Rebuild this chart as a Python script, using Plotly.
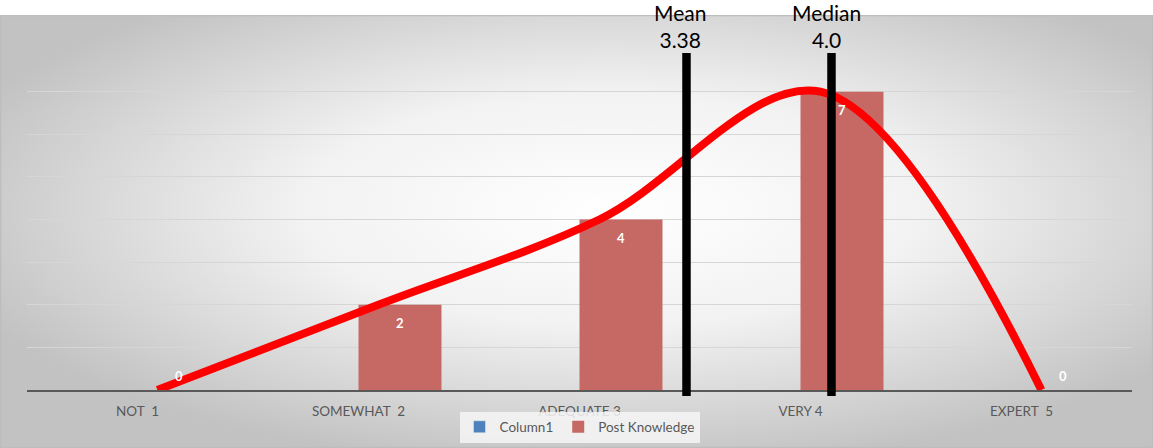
import base64
import plotly.graph_objects as go

# Survey response categories and counts
categories = ["NOT\u00a0\u00a01", "SOMEWHAT\u00a0\u00a02", "ADEQUATE 3", "VERY 4", "EXPERT\u00a0\u00a05"]
column1 = [None, None, None, None, None]
post_knowledge = [0, 2, 4, 7, 0]
mean_score = 3.38
median_score = 4.0

W, H = 1153, 448
ML, MR, MT, MB = 27, 21, 49, 58
plot_w = W - ML - MR
plot_h = H - MT - MB

positions = list(range(1, len(categories) + 1))
bar_gap = 0.249
curve_shift = 0.09          # trend curve drawn slightly right of the category centre
stat_axis_range = [0.56, 5.285]  # scale used by the mean / median markers


def px_to_paper_x(px):
    return (px - ML) / plot_w


def px_to_paper_y(py):
    return (H - MB - py) / plot_h


# Radial-gradient chart-area background (drawn as an inline SVG image)
bw, bh = W, 433
svg = f'''<svg xmlns="http://www.w3.org/2000/svg" width="{bw}" height="{bh}" viewBox="0 0 {bw} {bh}" preserveAspectRatio="none">
<defs><radialGradient id="g" cx="0.53" cy="0.45" r="0.6">
<stop offset="0" stop-color="#ffffff"/><stop offset="0.45" stop-color="#f2f2f2"/><stop offset="1" stop-color="#c2c2c2"/>
</radialGradient></defs>
<rect x="0" y="0" width="{bw}" height="{bh}" fill="url(#g)"/>
<rect x="0.5" y="0.5" width="{bw - 1}" height="{bh - 1}" fill="none" stroke="#bdbdbd" stroke-width="1.5"/>
</svg>'''
bg_src = "data:image/svg+xml;base64," + base64.b64encode(svg.encode()).decode()

fig = go.Figure()

fig.add_trace(go.Bar(
    x=positions, y=column1, name="Column1",
    marker=dict(color="#4f81bd"),
))
fig.add_trace(go.Bar(
    x=positions, y=post_knowledge, name="Post Knowledge",
    marker=dict(color="#c66965", line=dict(width=0)),
))
fig.add_trace(go.Scatter(
    x=positions, y=post_knowledge, xaxis="x2", mode="lines",
    line=dict(color="#ff0000", width=8, shape="spline", smoothing=1.0),
    showlegend=False, hoverinfo="skip",
))
fig.add_trace(go.Scatter(
    x=[mean_score, median_score], y=[None, None], xaxis="x3",
    mode="markers", showlegend=False, hoverinfo="skip",
))

# Data labels: inside the top of each Post Knowledge bar (just above the axis for zeros)
bar_offset = (1 - bar_gap) / 4
for pos, v in zip(positions, post_knowledge):
    fig.add_annotation(x=pos + bar_offset, y=v, xref="x", yref="y",
                       text=f"<b>{v}</b>", showarrow=False,
                       yshift=14 if v == 0 else -18,
                       font=dict(family="Lato", size=13, color="white"))

# Mean and median marker lines with their labels
for value, label, xshift in [(mean_score, f"Mean<br>{mean_score:.2f}", -6),
                             (median_score, f"Median<br>{median_score:.1f}", -5)]:
    fig.add_shape(type="line", xref="x3", yref="paper",
                  x0=value, x1=value,
                  y0=px_to_paper_y(396), y1=px_to_paper_y(53),
                  line=dict(color="black", width=8.5), layer="above")
    fig.add_annotation(x=value, xref="x3", yref="paper", y=px_to_paper_y(26),
                       text=label, showarrow=False, xshift=xshift,
                       font=dict(family="Lato", size=21, color="black"),
                       yanchor="middle", align="center")

fig.add_layout_image(dict(
    source=bg_src, xref="paper", yref="paper",
    x=px_to_paper_x(0), y=px_to_paper_y(15),
    sizex=W / plot_w, sizey=bh / plot_h,
    xanchor="left", yanchor="top", sizing="stretch", layer="below",
))

fig.update_layout(
    width=W, height=H,
    margin=dict(l=ML, r=MR, t=MT, b=MB, pad=0, autoexpand=False),
    paper_bgcolor="white",
    plot_bgcolor="rgba(0,0,0,0)",
    barmode="group",
    bargap=bar_gap,
    bargroupgap=0,
    font=dict(family="Lato", color="#595959"),
    xaxis=dict(
        range=[0.5, 5.5], tickvals=positions, ticktext=categories,
        showgrid=False, zeroline=False, showline=True,
        linecolor="#595959", linewidth=2, ticks="",
        tickfont=dict(family="Lato", size=13.5, color="#595959"),
        ticklabelstandoff=8,
    ),
    xaxis2=dict(overlaying="x", range=[0.5 - curve_shift, 5.5 - curve_shift], visible=False),
    xaxis3=dict(overlaying="x", range=stat_axis_range, visible=False),
    yaxis=dict(
        range=[0, 8], dtick=1, showticklabels=False,
        showgrid=True, gridcolor="#d6d6d6", gridwidth=1, zeroline=False,
    ),
    legend=dict(
        orientation="h", x=0.5, xanchor="center",
        y=px_to_paper_y(427), yanchor="middle",
        bgcolor="rgba(246,246,246,0.85)",
        font=dict(family="Lato", size=13.5, color="#595959"),
        itemwidth=30, traceorder="normal",
    ),
    showlegend=True,
)

fig.write_html("out.html")
